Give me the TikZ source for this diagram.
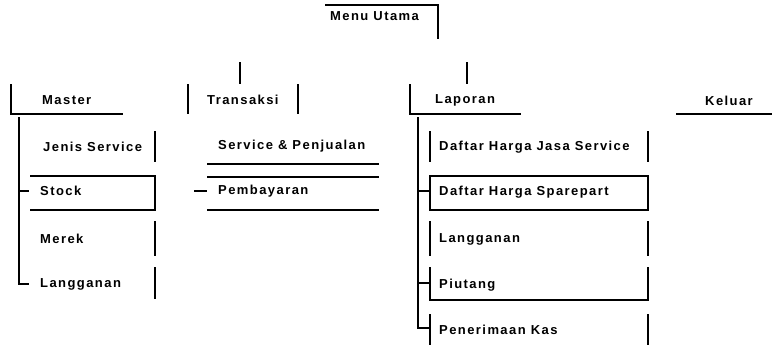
\documentclass[tikz,border=0pt]{standalone}
\usepackage{fontspec}
\setmainfont{Liberation Sans}[LetterSpace=11]
\begin{document}
\begin{tikzpicture}[x=1pt,y=-1pt,
  lbl/.style={anchor=west,inner sep=0pt,font=\fontsize{13}{15}\selectfont\bfseries},
  ln/.style={line width=1.7pt,line cap=rect}]
\useasboundingbox (0,0) rectangle (772,345);
% labels
\node[lbl] (menu) at (330,16) {Menu Utama};
\node[lbl] (master) at (42,100) {Master};
\node[lbl] (trans) at (207,100) {Transaksi};
\node[lbl] (lap) at (435,100) {Laporan};
\node[lbl] (kel) at (705,101) {Keluar};
\node[lbl] (jenis) at (43,147) {Jenis Service};
\node[lbl] (stock) at (40,191) {Stock};
\node[lbl] (merek) at (40,239) {Merek};
\node[lbl] (lang) at (40,284) {Langganan};
\node[lbl] (serv) at (218,146) {Service \& Penjualan};
\node[lbl] (bayar) at (218,191) {Pembayaran};
\node[lbl] (dhjs) at (439,147) {Daftar Harga Jasa Service};
\node[lbl] (dhs) at (439,192) {Daftar Harga Sparepart};
\node[lbl] (llang) at (439,239) {Langganan};
\node[lbl] (piut) at (439,285) {Piutang};
\node[lbl] (kas) at (439,330) {Penerimaan Kas};
% menu utama
\draw[ln] (326,5) -- (438,5) -- (438,38);
\draw[ln] (240,63) -- (240,83);
\draw[ln] (467,63) -- (467,83);
% level 1
\draw[ln] (11,85) -- (11,114) -- (122,114);
\draw[ln] (188,85) -- (188,113);
\draw[ln] (298,85) -- (298,113);
\draw[ln] (410,85) -- (410,114) -- (520,114);
\draw[ln] (677,114) -- (772,114);
% master children
\coordinate (mt) at (19,118);
\coordinate (mb) at (19,284);
\draw[ln] (mt) -- (mb) -- (28,284);
\draw[ln] (19,191) -- (28,191);
\draw[ln] (155,132) -- (155,161);
\draw[ln] (31,176) -- (155,176) -- (155,210) -- (31,210);
\draw[ln] (155,222) -- (155,255);
\draw[ln] (155,268) -- (155,298);
% transaksi children
\draw[ln] (208,164) -- (378,164);
\draw[ln] (208,177) -- (378,177);
\draw[ln] (208,210) -- (378,210);
\draw[ln] (195,191) -- (206,191);
% laporan children
\coordinate (lt) at (418,118);
\coordinate (lb) at (418,328);
\draw[ln] (lt) -- (lb) -- (430,328);
\draw[ln] (418,191) -- (430,191);
\draw[ln] (418,283) -- (430,283);
\draw[ln] (430,132) -- (430,161);
\draw[ln] (648,132) -- (648,161);
\draw[ln] (430,176) rectangle (648,210);
\draw[ln] (430,222) -- (430,255);
\draw[ln] (648,222) -- (648,255);
\draw[ln] (430,268) -- (430,300) -- (648,300) -- (648,268);
\draw[ln] (430,315) -- (430,345);
\draw[ln] (648,315) -- (648,345);
\end{tikzpicture}
\end{document}
